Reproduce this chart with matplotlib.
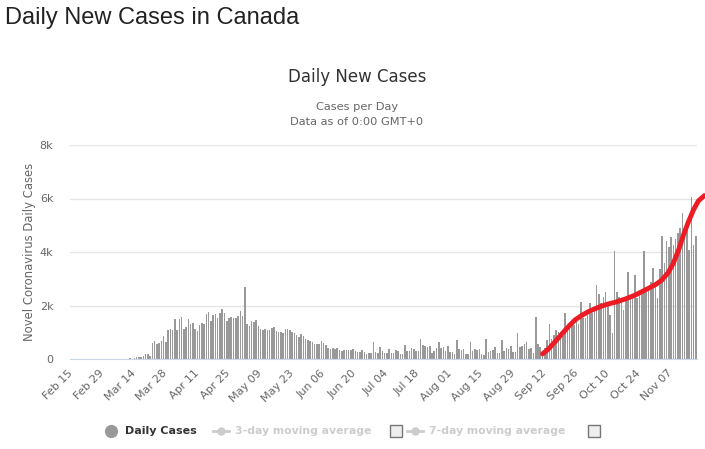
import numpy as np
import pandas as pd
import matplotlib
matplotlib.use('Agg')
import matplotlib.pyplot as plt
from matplotlib.patches import Rectangle

# daily new cases in Canada, one value per day from Feb 15
cases_feb_mar = [0, 0, 0, 0, 0, 1, 0, 0, 0, 1, 0, 0, 0, 1,
                 1, 0, 2, 1, 3, 2, 4, 6, 8, 10, 12, 15, 20, 18]
cases_mar_may = [25, 60, 90, 75, 110, 190, 190, 120, 600, 660,
                 570, 610, 670, 860, 650, 1080, 1110, 1080, 1480, 1080,
                 1490, 1570, 1120, 1190, 1490, 1290, 1340, 1130, 1060, 1270,
                 1350, 1290, 1680, 1750, 1420, 1650, 1700, 1540, 1710, 1860,
                 1730, 1430, 1520, 1570, 1520, 1530, 1620, 1790, 1600, 2700]
cases_may_jul = [1310, 1230, 1430, 1380, 1460, 1230, 1130, 1080, 1110, 1080,
                 1080, 1150, 1200, 1060, 1020, 1000, 980, 1130, 1120, 1070,
                 1020, 960, 900, 830, 930, 860, 740, 710, 690, 640,
                 570, 560, 570, 660, 600, 540, 420, 360, 400, 370,
                 410, 350, 310, 320, 340, 340, 350, 360, 300, 260,
                 270, 340, 250, 170, 210, 210, 650, 270, 210, 460, 310]
cases_jul_sep = [210, 210, 360, 210, 240, 340, 300, 190, 190, 520,
                 310, 310, 410, 370, 310, 300, 750, 520, 490, 440,
                 490, 210, 310, 420, 620, 400, 460, 310, 490, 260,
                 260, 190, 700, 360, 340, 370, 190, 190, 640, 300,
                 360, 340, 370, 190, 150, 750, 270, 310, 340, 450,
                 240, 240, 710, 310, 400, 360, 500, 260, 250, 970, 460,
                 500, 560, 620, 380, 420, 230]
cases_sep_oct = [1580, 550, 460, 300, 400, 710, 1310, 735, 900, 1080,
                 1020, 1000, 860, 1730, 1150, 1150, 1230, 1270, 1460, 1310,
                 2130, 1550, 1520, 1650, 2110, 1710, 1930, 2780, 2420, 2080,
                 2330, 2490, 2100, 1650, 960, 4040]
cases_oct_nov = [2490, 2300, 2200, 1830, 2250, 3240, 2350, 2400, 3140, 2270,
                 2500, 2450, 4040, 2520, 2600, 2890, 3410, 2800, 2290, 3360,
                 4610, 3580, 4410, 4200, 4570, 4260, 4500, 4700, 4900, 5450,
                 4700, 5100, 4070, 6070, 4260, 4600]
cases = cases_feb_mar + cases_mar_may + cases_may_jul + cases_jul_sep + cases_sep_oct + cases_oct_nov

# hand drawn red trend (day index, value)
trend_days = [209, 211.6, 214.6, 217.5, 220.5, 223.4, 226.4, 229.3, 232.3, 235.3,
              238.2, 241.2, 245.6, 250.1, 254.5, 258.9, 261.9, 264.8, 267.0, 269.3,
              271.5, 273.7, 275.9, 278.1, 280.8]
trend_vals = [190, 370, 650, 930, 1210, 1460, 1630, 1770, 1880, 1980,
              2060, 2120, 2240, 2390, 2580, 2770, 2950, 3240, 3580, 4070,
              4640, 5130, 5570, 5910, 6110]

dates = pd.date_range('2020-02-15', periods=len(cases), freq='D')
tick_idx = list(range(0, len(cases) - 5, 14))
tick_lbl = [dates[i].strftime('%b %d') for i in tick_idx]
y_ticks = [0, 2000, 4000, 6000, 8000]
y_lbl = ['0', '2k', '4k', '6k', '8k']

W, H = 705, 449
fig = plt.figure(figsize=(W / 100, H / 100), dpi=100)
fig.patch.set_facecolor('white')

ax = fig.add_axes([70 / W, 1 - 359 / H, 627 / W, 214 / H])
x = np.arange(len(cases))
ax.bar(x, cases, width=0.68, color='#999999', linewidth=0, zorder=2)
ax.plot(trend_days, trend_vals, color='#ed1c24', lw=3.5, solid_capstyle='round',
        clip_on=False, zorder=5)

ax.set_xlim(-0.5, len(cases) - 0.5)
ax.set_ylim(0, 8000)
ax.set_yticks(y_ticks)
ax.set_yticklabels(y_lbl, color='#666666', fontsize=8)
ax.set_xticks(tick_idx)
ax.set_xticklabels(tick_lbl, rotation=45, ha='right', va='center',
                   rotation_mode='anchor', color='#666666', fontsize=8)
ax.tick_params(axis='both', length=0)
ax.tick_params(axis='x', pad=9)
ax.tick_params(axis='y', pad=12)
ax.yaxis.grid(True, color='#e6e6e6', lw=1, zorder=0)
ax.set_axisbelow(True)
for s in ['top', 'right', 'left']:
    ax.spines[s].set_visible(False)
ax.spines['bottom'].set_color('#ccd6eb')
ax.spines['bottom'].set_zorder(3)
ax.set_ylabel('Novel Coronavirus Daily Cases', color='#666666', fontsize=8.4, labelpad=3)

fig.text(5 / W, 1 - 18 / H, 'Daily New Cases in Canada', fontsize=17,
         family='Liberation Sans', color='#222222', va='center', ha='left')
fig.text(357 / W, 1 - 77 / H, 'Daily New Cases', fontsize=12, color='#333333',
         ha='center', va='center')
fig.text(357 / W, 1 - 107 / H, 'Cases per Day', fontsize=8.2, color='#666666',
         ha='center', va='center')
fig.text(357 / W, 1 - 122 / H, 'Data as of 0:00 GMT+0', fontsize=8.2, color='#666666',
         ha='center', va='center')

# legend row
lay = fig.add_axes([0, 0, 1, 1])
lay.set_xlim(0, W)
lay.set_ylim(H, 0)
lay.axis('off')
ly = 431
lay.plot([111], [ly], 'o', color='#999999', ms=8.5)
lay.text(125, ly, 'Daily Cases', fontsize=8, fontweight='bold', color='#333333', va='center')
lay.plot([213, 229], [ly, ly], color='#cccccc', lw=2)
lay.plot([221], [ly], 'o', color='#cccccc', ms=5)
lay.text(235, ly, '3-day moving average', fontsize=7.8, fontweight='bold', color='#cccccc', va='center')
lay.add_patch(Rectangle((390, ly - 6), 12, 12, fc='#eeeeee', ec='#777777', lw=1))
lay.plot([407, 423], [ly, ly], color='#cccccc', lw=2)
lay.plot([415], [ly], 'o', color='#cccccc', ms=5)
lay.text(429, ly, '7-day moving average', fontsize=7.8, fontweight='bold', color='#cccccc', va='center')
lay.add_patch(Rectangle((588, ly - 6), 12, 12, fc='#eeeeee', ec='#777777', lw=1))

fig.savefig('out.png', dpi=100)
